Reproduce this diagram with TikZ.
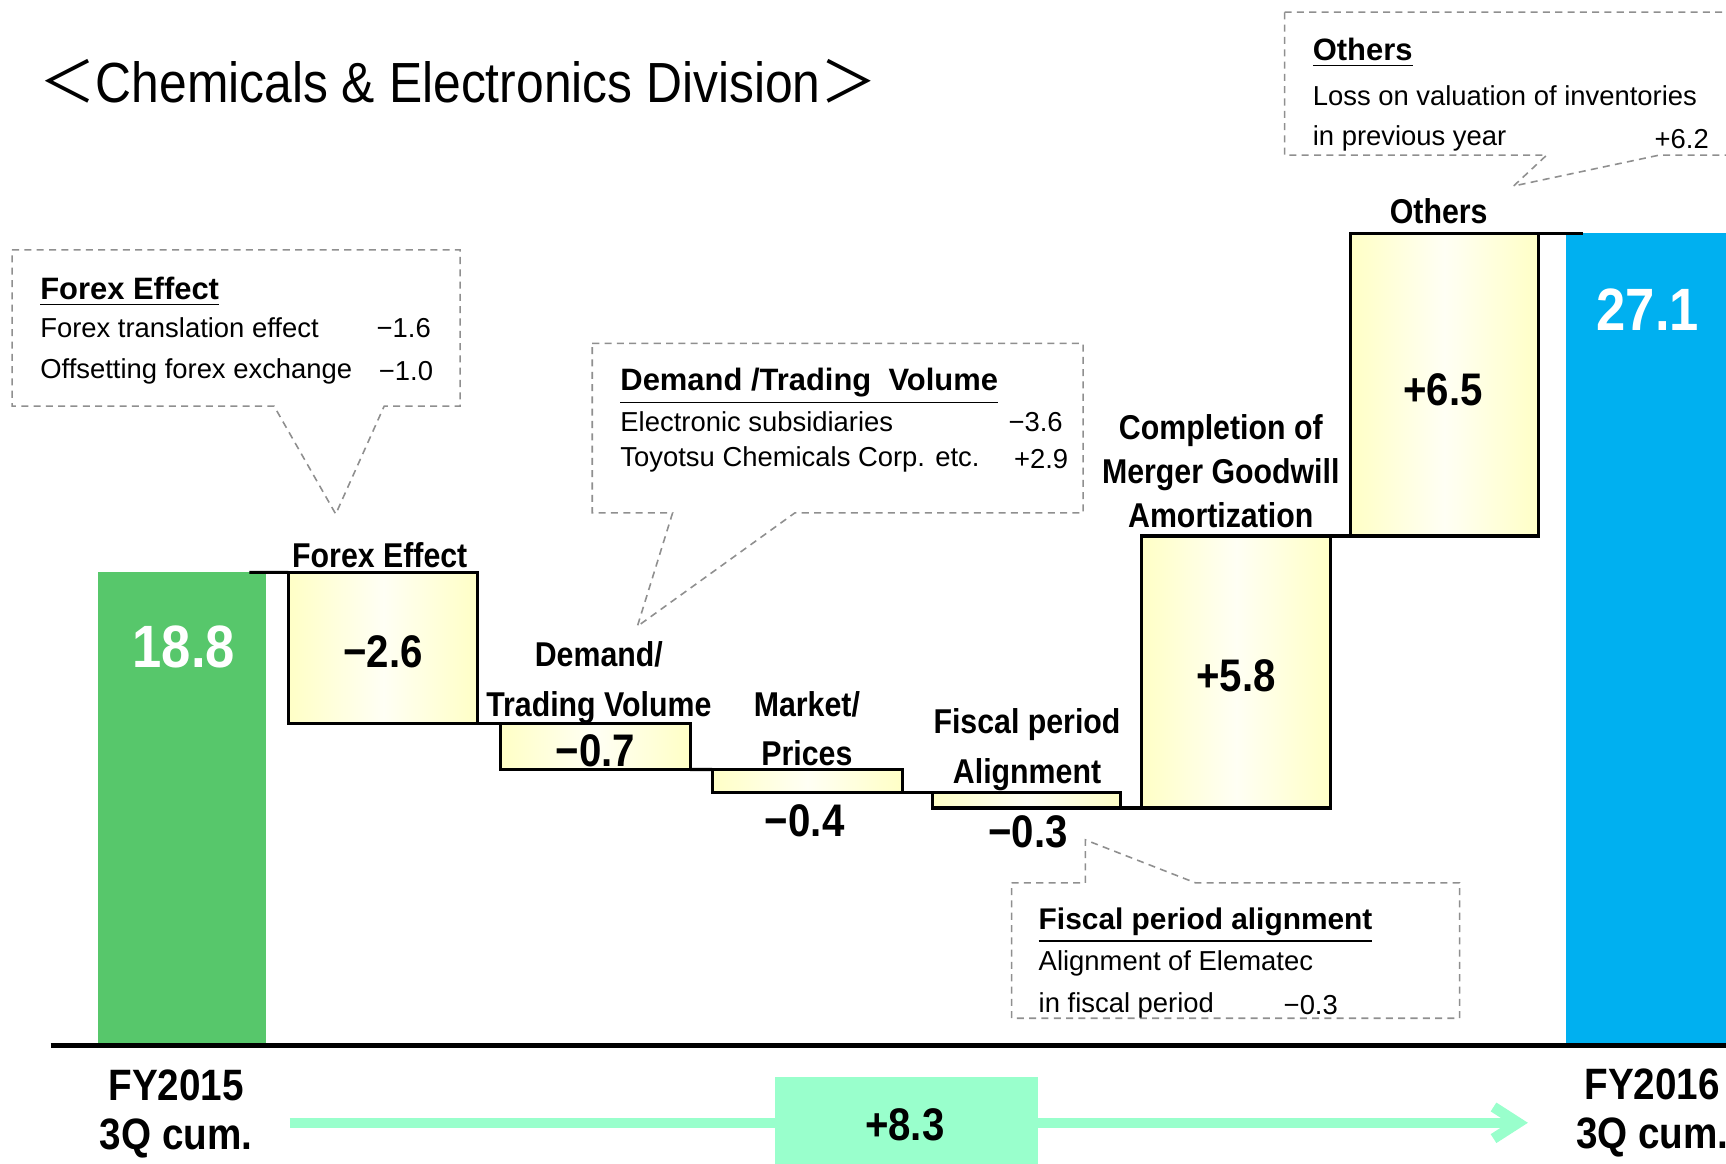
\documentclass[tikz,border=0pt]{standalone}
\usepackage{fontspec}
\setmainfont{Liberation Sans}
\newfontfamily\narrowfont[FakeStretch=0.88]{Liberation Sans}
\newfontfamily\cjkfont{Noto Sans CJK JP}
\usepackage{tikz}
\usetikzlibrary{arrows.meta, positioning, fit}
\usepackage{xcolor}
\definecolor{TTGreen}{HTML}{57C76B}
\definecolor{TTBlue}{HTML}{00B0F0}
\definecolor{TTCream}{HTML}{FFFFC6}
\definecolor{TTCreamLight}{HTML}{FFFFF4}
\definecolor{TTMint}{HTML}{99FFCC}
\definecolor{TTGray}{HTML}{8F8F8F}
\tikzset{
    % Bar styles
    totalbar/.style={
        rectangle,
        draw=none,
        inner sep=0pt,
        outer sep=0pt
    },
    stepbar/.style={
        rectangle,
        draw=black,
        line width=0.9pt,
        inner sep=0pt,
        outer sep=0pt,
        left color=TTCream,
        right color=TTCream,
        middle color=TTCreamLight
    },
    % Text styles
    totalvalue/.style={
        text=white,
        inner sep=0pt,
        font=\narrowfont\bfseries\fontsize{17}{20}\selectfont
    },
    stepvalue/.style={
        inner sep=0pt,
        font=\narrowfont\bfseries\fontsize{13}{15}\selectfont
    },
    steplabel/.style={
        inner sep=0pt,
        align=center,
        font=\narrowfont\bfseries\fontsize{9.8}{14.1}\selectfont
    },
    yearlabel/.style={
        inner sep=0pt,
        align=center,
        font=\narrowfont\bfseries\fontsize{12.5}{14.1}\selectfont
    },
    callhead/.style={
        inner sep=0pt,
        anchor=west,
        font=\bfseries\fontsize{8.8}{10}\selectfont
    },
    calltext/.style={
        inner sep=0pt,
        anchor=west,
        font=\fontsize{7.8}{9}\selectfont
    },
    callvalue/.style={
        inner sep=0pt,
        anchor=east,
        font=\fontsize{7.8}{9}\selectfont
    },
    % Line styles
    callout/.style={
        draw=TTGray,
        fill=white,
        line width=0.45pt,
        dash pattern=on 2pt off 1.5pt
    },
    linkline/.style={
        draw=black,
        line width=0.9pt
    },
    axisline/.style={
        draw=black,
        line width=1.3pt
    },
    growarrow/.style={
        draw=TTMint,
        line width=3pt,
        -{Straight Barb[length=7pt,width=9pt]}
    },
    growbox/.style={
        rectangle,
        fill=TTMint,
        inner sep=0pt
    }
}

\begin{document}
\begin{tikzpicture}[x=1.1008cm, y=-1.1008cm]
    \useasboundingbox (0,0) rectangle (15.68,10.57);
    \clip (0,0) rectangle (15.68,10.57);

    % Title
    \node[anchor=west, inner sep=0pt, font=\narrowfont\fontsize{16.1}{18}\selectfont] (title) at (0.35,0.74)
        {{\cjkfont ＜}Chemicals \& Electronics Division{\cjkfont ＞}};

    % Callouts
    \draw[callout] (0.11,2.27) -- (4.18,2.27) -- (4.18,3.69) -- (3.49,3.69) -- (3.05,4.67) -- (2.49,3.69) -- (0.11,3.69) -- cycle;
    \node[callhead] (fx-head) at (0.36,2.65) {\underline{Forex Effect}};
    \node[calltext] (fx-l1) at (0.36,2.98) {Forex translation effect};
    \node[callvalue] (fx-v1) at (3.92,2.98) {−1.6};
    \node[calltext] (fx-l2) at (0.36,3.37) {Offsetting forex exchange};
    \node[callvalue] (fx-v2) at (3.94,3.37) {−1.0};

    \draw[callout] (5.38,3.12) -- (9.84,3.12) -- (9.84,4.66) -- (7.22,4.66) -- (5.79,5.69) -- (6.11,4.66) -- (5.38,4.66) -- cycle;
    \node[callhead] (dv-head) at (5.63,3.51) {\underline{Demand /Trading~ Volume}};
    \node[calltext] (dv-l1) at (5.63,3.83) {Electronic subsidiaries};
    \node[callvalue] (dv-v1) at (9.66,3.83) {−3.6};
    \node[calltext] (dv-l2) at (5.63,4.17) {Toyotsu Chemicals Corp. etc.};
    \node[callvalue] (dv-v2) at (9.71,4.17) {+2.9};

    \draw[callout] (11.67,0.11) -- (15.90,0.11) -- (15.90,1.41) -- (15.07,1.41) -- (13.75,1.69) -- (14.05,1.41) -- (11.67,1.41) -- cycle;
    \node[callhead] (ot-head) at (11.92,0.48) {\underline{Others}};
    \node[calltext] (ot-l1) at (11.92,0.87) {Loss on valuation of inventories};
    \node[calltext] (ot-l2) at (11.92,1.26) {in previous year};
    \node[callvalue] (ot-v1) at (15.53,1.26) {+6.2};

    \draw[callout] (9.19,8.02) -- (9.86,8.02) -- (9.86,7.63) -- (10.86,8.02) -- (13.26,8.02) -- (13.26,9.25) -- (9.19,9.25) -- cycle;
    \node[callhead, font=\bfseries\fontsize{8.5}{10}\selectfont] (fp-head) at (9.43,8.41) {\underline{Fiscal period alignment}};
    \node[calltext] (fp-l1) at (9.43,8.75) {Alignment of Elematec};
    \node[calltext] (fp-l2) at (9.43,9.13) {in fiscal period};
    \node[callvalue] (fp-v1) at (12.16,9.13) {−0.3};

    % Totals
    \node[totalbar, fill=TTGreen, fit={(0.89,5.20) (2.42,9.50)}] (fy15) {};
    \node[totalbar, fill=TTBlue, fit={(14.23,2.12) (15.90,9.50)}] (fy16) {};
    \node[totalvalue] (v15) at (1.67,5.88) {18.8};
    \node[totalvalue] (v16) at (14.97,2.81) {27.1};

    % Steps
    \node[stepbar, fit={(2.62,5.20) (4.34,6.57)}] (fx) {};
    \node[stepbar, fit={(4.55,6.57) (6.27,6.99)}] (dv) {};
    \node[stepbar, fit={(6.47,6.99) (8.20,7.20)}] (mp) {};
    \node[stepbar, fit={(8.47,7.20) (10.18,7.34)}] (fp) {};
    \node[stepbar, fit={(10.37,4.87) (12.09,7.34)}] (mg) {};
    \node[stepbar, fit={(12.27,2.12) (13.98,4.87)}] (ot) {};
    \node[stepvalue] (fx-val) at (3.48,5.92) {−2.6};
    \node[stepvalue] (dv-val) at (5.41,6.82) {−0.7};
    \node[stepvalue] (mp-val) at (7.31,7.46) {−0.4};
    \node[stepvalue] (fp-val) at (9.34,7.56) {−0.3};
    \node[stepvalue] (mg-val) at (11.23,6.14) {+5.8};
    \node[stepvalue] (ot-val) at (13.11,3.54) {+6.5};

    \draw[linkline] ([xshift=-0.17cm]fy15.north east) -- (fx.north west);
    \draw[linkline] (fx.south east) -- (dv.north west);
    \draw[linkline] (dv.south east) -- (mp.north west);
    \draw[linkline] (mp.south east) -- (fp.north west);
    \draw[linkline] (fp.south east) -- (mg.south west);
    \draw[linkline] (mg.north east) -- (ot.south west);
    \draw[linkline] (ot.north east) -- ([xshift=0.17cm]fy16.north west);

    % Labels
    \node[steplabel] (fx-lbl) at (3.45,5.04) {Forex Effect};
    \node[steplabel] (dv-lbl) at (5.44,6.20) {Demand/\\Trading Volume};
    \node[steplabel] (mp-lbl) at (7.33,6.62) {Market/\\Prices};
    \node[steplabel] (fp-lbl) at (9.33,6.81) {Fiscal period\\Alignment};
    \node[steplabel, font=\narrowfont\bfseries\fontsize{9.8}{12.5}\selectfont] (mg-lbl) at (11.09,4.28) {Completion of\\Merger Goodwill\\Amortization};
    \node[steplabel] (ot-lbl) at (13.07,1.92) {Others};

    % Axis and years
    \draw[axisline] (0.46,9.50) -- (15.90,9.50);
    \node[yearlabel] (y15) at (1.60,10.12) {FY2015\\3Q cum.};
    \node[yearlabel] (y16) at (15.01,10.11) {FY2016\\3Q cum.};

    % Growth arrow
    \coordinate (grow-s) at (2.63,10.20);
    \coordinate (grow-e) at (13.88,10.20);
    \draw[growarrow] (grow-s) -- (grow-e);
    \node[growbox, fit={(7.04,9.78) (9.43,10.65)}] (gain) {};
    \node[stepvalue] (gain-val) at (8.22,10.22) {+8.3};
\end{tikzpicture}
\end{document}
